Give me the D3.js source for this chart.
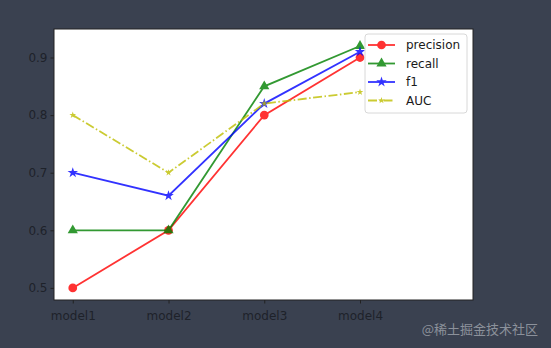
<!DOCTYPE html>
<html>
<head>
<meta charset="utf-8">
<script src="https://cdn.jsdelivr.net/npm/d3@7"></script>
<style>
body{margin:0;background:#3a4150;}
svg{display:block;}
</style>
</head>
<body>
<svg id="canvas" width="551" height="348"></svg>
<script>
let models=["model1","model2","model3","model4"];
let precision=[0.5,0.6,0.8,0.9];
let recall=[0.6,0.6,0.85,0.92];
let f1=[0.7,0.66,0.82,0.91];
let auc=[0.8,0.7,0.82,0.84];
let yTicks=[0.5,0.6,0.7,0.8,0.9];

let canvas=d3.select("#canvas");
let padL=54,padT=29,padR=473,padB=300;

let xScale=d3.scaleLinear().domain([-0.196,4.18]).range([padL,padR]);
let yScale=d3.scaleLinear().domain([0.479,0.9495]).range([padB,padT]);

// plot area
canvas.append("rect").attr("x",padL).attr("y",padT).attr("width",padR-padL).attr("height",padB-padT)
  .attr("fill","#fff").attr("stroke","#222").attr("stroke-width",1);

let xAxis=d3.axisBottom(xScale).tickValues([0,1,2,3]).tickFormat(i=>models[i]).tickSize(3.5).tickSizeOuter(0);
let yAxis=d3.axisLeft(yScale).tickValues(yTicks).tickFormat(d3.format(".1f")).tickSize(3.5).tickSizeOuter(0);

let gx=canvas.append("g").attr("transform","translate(0,"+padB+")").call(xAxis);
let gy=canvas.append("g").attr("transform","translate("+padL+",0)").call(yAxis);
[gx,gy].forEach(g=>{
  g.select(".domain").remove();
  g.selectAll("line").attr("stroke","#222");
  g.selectAll("text").style("font","12px 'DejaVu Sans'").attr("fill","#1e222a");
});
gx.selectAll("text").attr("dy","1.15em");

let series=[
  {name:"precision",vals:precision,color:"#ff0000",marker:"circle",dash:null},
  {name:"recall",vals:recall,color:"#008000",marker:"triangle",dash:null},
  {name:"f1",vals:f1,color:"#0000ff",marker:"star",dash:null},
  {name:"AUC",vals:auc,color:"#bfbf00",marker:"dot",dash:"9,2.5,1.5,2.5"}
];

let symbolFor=(m)=>{
  if(m=="circle") return d3.symbol().type(d3.symbolCircle).size(60)();
  if(m=="triangle") return d3.symbol().type(d3.symbolTriangle).size(45)();
  if(m=="star") return d3.symbol().type(d3.symbolStar).size(34)();
  return d3.symbol().type(d3.symbolStar).size(14)();
};

let line=d3.line().x((v,i)=>xScale(i)).y(v=>yScale(v));

series.forEach(s=>{
  let g=canvas.append("g").attr("opacity",0.8);
  g.append("path").attr("d",line(s.vals)).attr("fill","none").attr("stroke",s.color)
    .attr("stroke-width",1.8).attr("stroke-dasharray",s.dash);
  g.selectAll("path.m").data(s.vals).enter().append("path").attr("class","m")
    .attr("d",symbolFor(s.marker))
    .attr("transform",(v,i)=>"translate("+xScale(i)+","+yScale(v)+")")
    .attr("fill",s.color);
});

// legend
let lg=canvas.append("g");
lg.append("rect").attr("x",365).attr("y",34).attr("width",102).attr("height",79).attr("rx",3)
  .attr("fill","#fff").attr("fill-opacity",0.85).attr("stroke","#d8d8d8");
series.forEach((s,i)=>{
  let y=45+i*18.5;
  let g=lg.append("g").attr("opacity",0.8);
  g.append("line").attr("x1",368).attr("x2",395).attr("y1",y).attr("y2",y)
    .attr("stroke",s.color).attr("stroke-width",1.8).attr("stroke-dasharray",s.dash);
  g.append("path").attr("d",symbolFor(s.marker)).attr("transform","translate(381.5,"+y+")").attr("fill",s.color);
  lg.append("text").text(s.name).attr("x",406).attr("y",y+4.3)
    .style("font","12px 'DejaVu Sans'").attr("fill","#1a1a1a");
});

canvas.append("text").text("@稀土掘金技术社区").attr("x",538).attr("y",334).attr("text-anchor","end")
  .style("font","13px 'Noto Sans CJK SC'").attr("fill","#8c919b");
</script>
</body>
</html>
